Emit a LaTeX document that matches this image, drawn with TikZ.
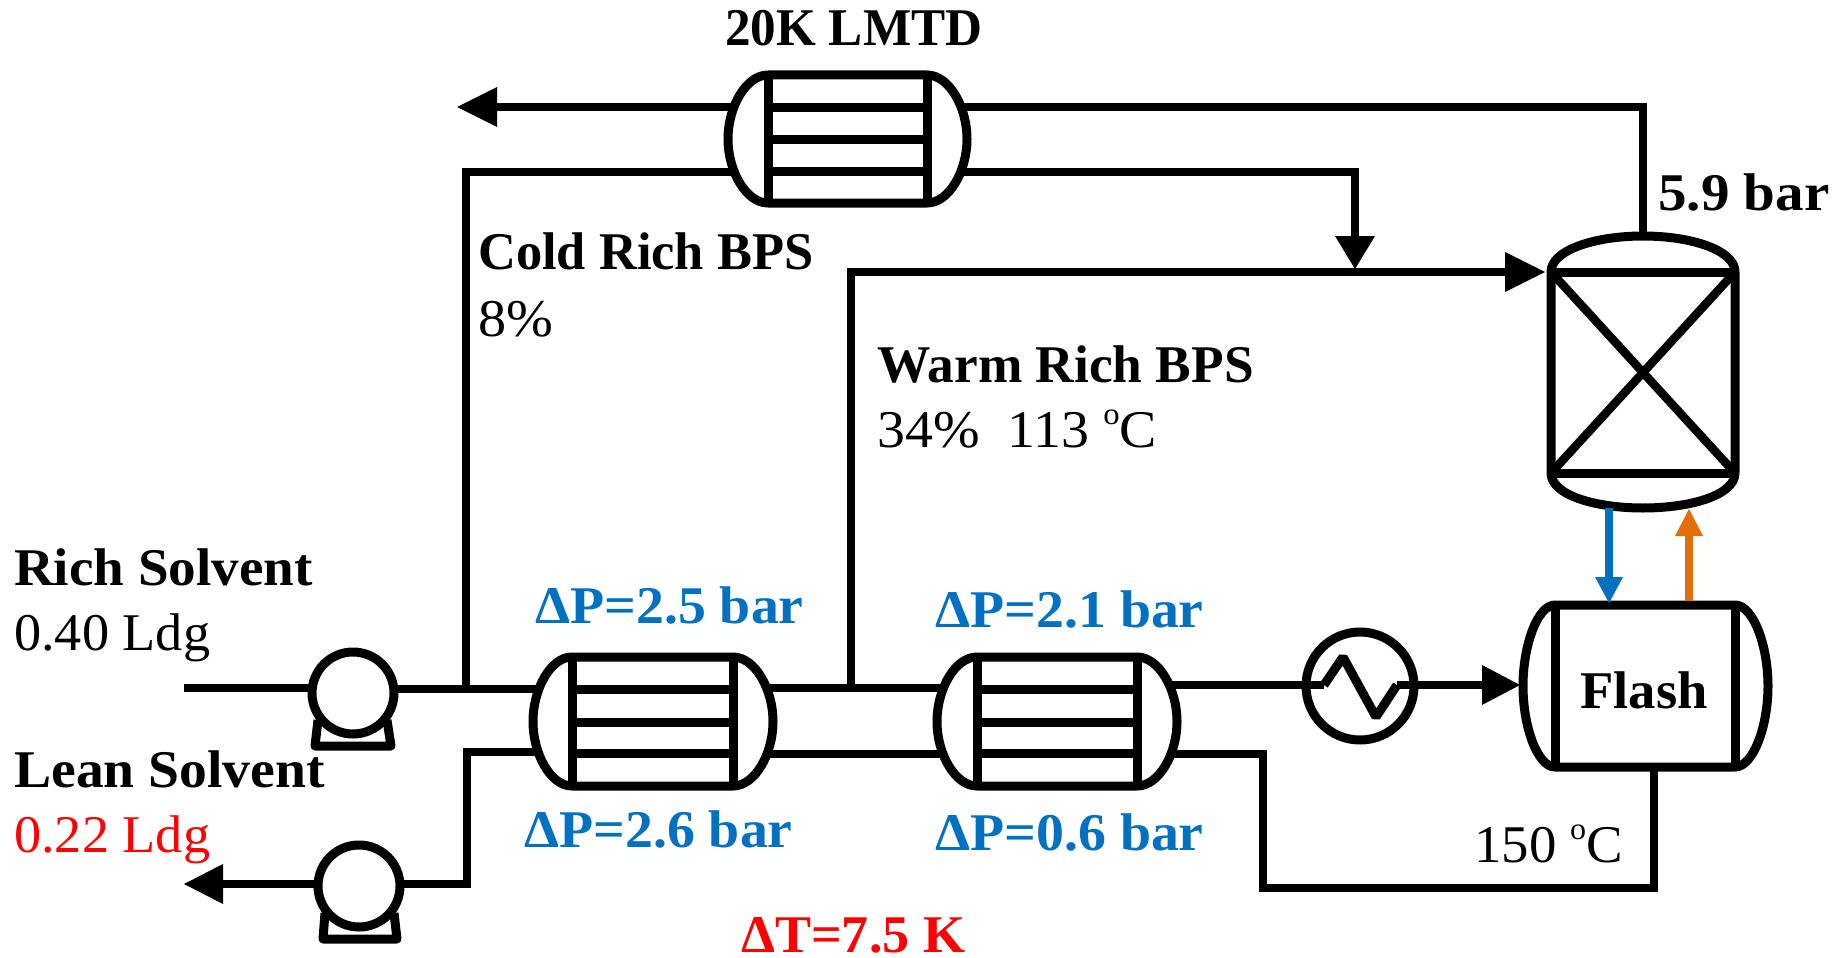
\documentclass[tikz,border=0pt]{standalone}
\usepackage{fontspec}
\setmainfont{Liberation Serif}
\definecolor{pblue}{HTML}{0070C0}
\definecolor{porange}{HTML}{E46C0A}
\definecolor{pred}{HTML}{FF0000}
\tikzset{
  pipe/.style={line width=8pt,line cap=butt,line join=miter},
  tubeline/.style={line width=9pt,line cap=butt},
  equip/.style={line width=9pt,line join=round,fill=white},
  lbl/.style={anchor=base west,inner sep=0pt,font=\fontsize{53}{53}\selectfont},
  blbl/.style={lbl,font=\fontsize{53}{53}\selectfont\bfseries},
}
\newcommand{\sx}[2]{\scalebox{#1}[1]{#2}}
\newcommand{\degc}{\raisebox{0.42em}{\fontsize{31}{31}\selectfont o}C}
\newcommand{\hxbody}[7]{% left apex, left sheet, right sheet, right apex, top, bottom, name
  \draw[equip] (#2,#5) -- (#3,#5) .. controls (#3+0.55*#4-0.55*#3,#5) and (#4,{#5+0.25*(#6-#5)}) .. (#4,{0.5*(#5+#6)})
     .. controls (#4,{#5+0.75*(#6-#5)}) and (#3+0.55*#4-0.55*#3,#6) .. (#3,#6) -- (#2,#6)
     .. controls (#2+0.55*#1-0.55*#2,#6) and (#1,{#5+0.75*(#6-#5)}) .. (#1,{0.5*(#5+#6)})
     .. controls (#1,{#5+0.25*(#6-#5)}) and (#2+0.55*#1-0.55*#2,#5) .. (#2,#5) -- cycle;
  \draw[tubeline] (#2,#5) -- (#2,#6) (#3,#5) -- (#3,#6);
  \coordinate (#7-in1) at (#1,{#5+0.25*(#6-#5)});
}
\newcommand{\tubes}[5]{\draw[tubeline] (#1,#3) -- (#2,#3) (#1,#4) -- (#2,#4) (#1,#5) -- (#2,#5);}
\begin{document}
\begin{tikzpicture}[x=1pt,y=-1pt]
\useasboundingbox (0,0) rectangle (1840,958);
% pipes
\coordinate (inA) at (184,688);
\coordinate (jc) at (466,689);
\coordinate (jw) at (851,688);
\draw[pipe] (inA) -- (360,688);
\draw[pipe] (353,689) -- (540,689);
\draw[pipe] (466,689) -- (466,172) -- (735,172);
\draw[pipe] (540,752) -- (467,752) -- (467,884) -- (223,884);
\draw[pipe] (770,688) -- (945,688);
\draw[pipe] (770,754) -- (945,754);
\draw[pipe] (jw) -- (851,272) -- (1505,272);
\draw[pipe] (960,107) -- (1643,107) -- (1643,240);
\draw[pipe] (960,172) -- (1355,172) -- (1355,236);
\draw[pipe] (1170,685) -- (1324,685);
\draw[pipe] (1397,685) -- (1482,685);
\draw[pipe] (1170,754) -- (1263,754) -- (1263,888) -- (1654,888) -- (1654,767);
\draw[pipe] (735,107) -- (497,107);
% arrowheads
\fill (184,884) -- (223,864) -- (223,904) -- cycle;
\fill (457,107) -- (497,87) -- (497,127) -- cycle;
\fill (1355,269) -- (1335,236) -- (1375,236) -- cycle;
\fill (1545,272) -- (1505,252) -- (1505,292) -- cycle;
\fill (1520,685) -- (1482,665) -- (1482,705) -- cycle;
% heat exchangers
\hxbody{728}{768}{927}{967}{75}{203}{hxa}
\tubes{768}{927}{107}{139}{171}
\hxbody{533}{572}{733}{773}{657}{786}{hxb}
\tubes{572}{733}{689}{722}{753}
\hxbody{937}{977}{1137}{1177}{657}{786}{hxc}
\tubes{977}{1137}{689}{722}{753}
% column
\draw[equip] (1551,272) .. controls (1551,250) and (1595,236) .. (1643,236) .. controls (1691,236) and (1735,250) .. (1735,272) -- (1735,473) .. controls (1735,495) and (1691,508) .. (1643,508) .. controls (1595,508) and (1551,495) .. (1551,473) -- cycle;
\draw[tubeline] (1551,272) -- (1735,272) (1551,473) -- (1735,473);
\draw[line width=8.5pt] (1551,272) -- (1735,473) (1735,272) -- (1551,473);
% flash
\hxbody{1523}{1555}{1735}{1768}{605}{767}{fl}
% blue / orange
\draw[pipe,pblue] (1609,508) -- (1609,577);
\fill[pblue] (1609,603) -- (1595,577) -- (1623,577) -- cycle;
\draw[pipe,porange] (1689,601) -- (1689,536);
\fill[porange] (1689,509) -- (1675,536) -- (1703,536) -- cycle;
% pumps
\draw[equip] (318,720) -- (315,746) -- (391,746) -- (387,720);
\draw[equip] (353,693) circle (41);
\draw[equip] (325,913) -- (323,939) -- (397,939) -- (394,913);
\draw[equip] (359,886) circle (41);
% heater
\draw[line width=9pt] (1360,686) circle (54);
\draw[line width=9pt,line join=bevel] (1324,685) -- (1343,657) -- (1376,717) -- (1397,685);
% labels
\node[blbl] (t1) at (725,46) {\sx{0.965}{20K LMTD}};
\node[blbl] (t2) at (478,269) {\sx{0.99}{Cold Rich BPS}};
\node[lbl] (t3) at (478,336) {\sx{1.06}{8\%}};
\node[blbl] (t4) at (877,382) {\sx{1.007}{Warm Rich BPS}};
\node[lbl] (t5) at (877,447) {\sx{1.055}{34\%\ \ 113 \degc}};
\node[blbl] (t6) at (1658,210) {\sx{1.077}{5.9 bar}};
\node[blbl] (t7) at (14,585) {\sx{1.04}{Rich Solvent}};
\node[lbl] (t8) at (14,650) {\sx{1.024}{0.40 Ldg}};
\node[blbl] (t9) at (14,787) {\sx{1.05}{Lean Solvent}};
\node[lbl,text=pred] (t10) at (14,852) {\sx{1.024}{0.22 Ldg}};
\node[blbl,text=pblue] (t11) at (535,623) {\sx{1.054}{ΔP=2.5 bar}};
\node[blbl,text=pblue] (t12) at (524,847) {\sx{1.054}{ΔP=2.6 bar}};
\node[blbl,text=pblue] (t13) at (935,627) {\sx{1.054}{ΔP=2.1 bar}};
\node[blbl,text=pblue] (t14) at (935,850) {\sx{1.054}{ΔP=0.6 bar}};
\node[blbl,text=pred,text depth=0pt] (t15) at (741,952) {\sx{1.02}{ΔT=7.5 K}};
\node[blbl] (t16) at (1580,708) {\sx{1.03}{Flash}};
\node[lbl] (t17) at (1474,862) {\sx{1.034}{150 \degc}};
\end{tikzpicture}
\end{document}
